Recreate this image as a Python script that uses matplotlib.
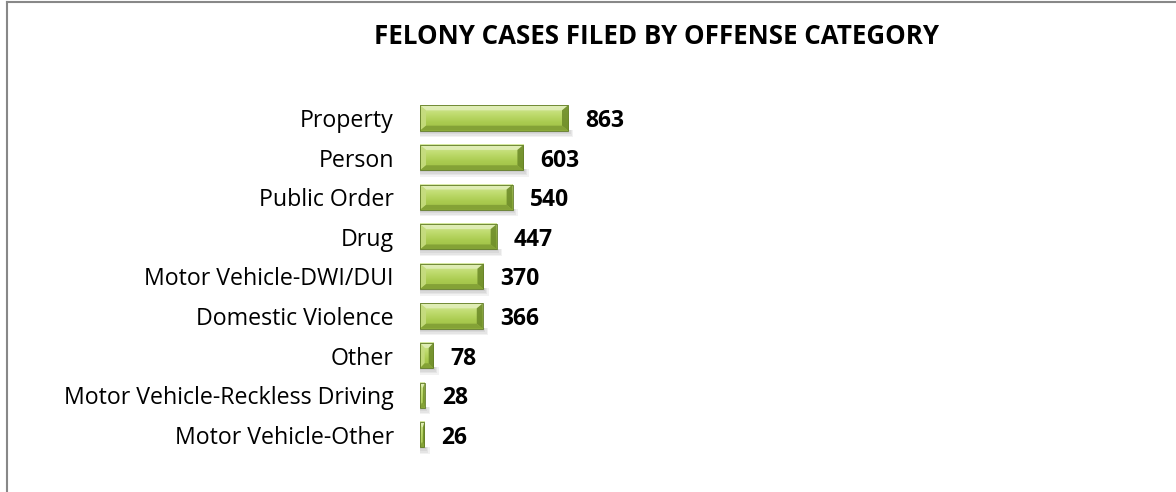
import matplotlib
matplotlib.use("Agg")
import matplotlib.pyplot as plt
import numpy as np
from matplotlib.patches import Polygon, Rectangle
from matplotlib.lines import Line2D
from matplotlib.colors import LinearSegmentedColormap

categories = ["Property", "Person", "Public Order", "Drug", "Motor Vehicle-DWI/DUI",
              "Domestic Violence", "Other", "Motor Vehicle-Reckless Driving", "Motor Vehicle-Other"]
values = [863, 603, 540, 447, 370, 366, 78, 28, 26]
title = "FELONY CASES FILED BY OFFENSE CATEGORY"

W, H = 1176, 492
fig = plt.figure(figsize=(W / 100, H / 100), dpi=100)
fig.patch.set_facecolor("white")

px_per_unit = 0.1715
ax_left, ax_right = 420, 1100
row0, step = 118, 39.6
ax_top = row0 - step / 2
ax_bot = row0 + 8 * step + step / 2
ax = fig.add_axes([ax_left / W, 1 - ax_bot / H, (ax_right - ax_left) / W, (ax_bot - ax_top) / H])
xmax = (ax_right - ax_left) / px_per_unit
ax.set_xlim(0, xmax)
ax.set_ylim(len(categories) - 0.5, -0.5)
ax.axis("off")

bh = 0.64
bx_px, by_px = 6, 5
grad = LinearSegmentedColormap.from_list("g", ["#d6eaa0", "#c0dc70", "#aacb50", "#9ebf44"])
gimg = np.linspace(0, 1, 64).reshape(-1, 1)
base_off = 9 / step

for i, (cat, v) in enumerate(zip(categories, values)):
    y0, y1 = i - bh / 2, i + bh / 2
    for k in range(4):
        off = (k + 1) * 0.03
        ax.add_patch(Rectangle((0, y1 - 0.02), v + 15 * (k + 1) * 0.5, 0.03 + off * 1.3,
                               facecolor="black", alpha=0.05, edgecolor="none", zorder=1))
    ax.imshow(gimg, extent=(0, v, y1, y0), aspect="auto", cmap=grad, zorder=2, interpolation="bilinear")
    bx = min(bx_px / px_per_unit, v * 0.35)
    by = by_px / step
    ax.add_patch(Polygon([(0, y0), (v, y0), (v - bx, y0 + by), (bx, y0 + by)],
                         closed=True, facecolor="#e3efbd", edgecolor="none", alpha=0.8, zorder=3))
    ax.add_patch(Polygon([(0, y0), (bx, y0 + by), (bx, y1 - by), (0, y1)],
                         closed=True, facecolor="#c6dc80", edgecolor="none", alpha=0.9, zorder=3))
    ax.add_patch(Polygon([(v, y0), (v, y1), (v - bx, y1 - by), (v - bx, y0 + by)],
                         closed=True, facecolor="#6f8d2a", edgecolor="none", alpha=0.9, zorder=3))
    ax.add_patch(Polygon([(0, y1), (v, y1), (v - bx, y1 - by), (bx, y1 - by)],
                         closed=True, facecolor="#819f35", edgecolor="none", alpha=0.9, zorder=3))
    ax.add_patch(Rectangle((0, y0), v, bh, facecolor="none", edgecolor="#5f7a22", lw=0.6, zorder=4))
    ax.text(v + 17 / px_per_unit, i + base_off, str(v), fontsize=16.5, fontweight="bold",
            family="Open Sans", va="baseline", ha="left", color="black")
    ax.text(-26 / px_per_unit, i + base_off, cat, fontsize=16.7, family="Open Sans", va="baseline",
            ha="right", color="black")

fig.text(656 / W, 1 - 36 / H, title, fontsize=18.6, fontweight="bold", family="Open Sans",
         ha="center", va="center")

fig.add_artist(Line2D([7 / W, 1], [1 - 2 / H, 1 - 2 / H], color="#888888", lw=1.5))
fig.add_artist(Line2D([7 / W, 7 / W], [0, 1 - 2 / H], color="#888888", lw=1.5))

fig.savefig("out.png", dpi=100)
